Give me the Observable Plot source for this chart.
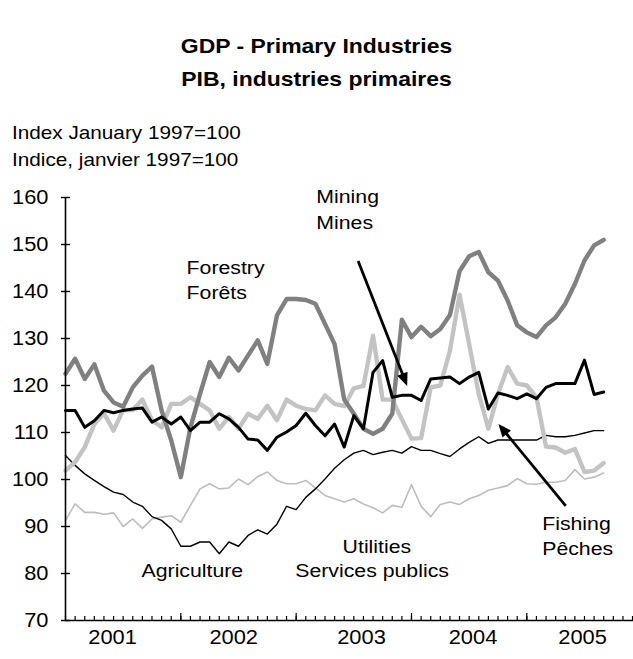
<!DOCTYPE html>
<html><head><meta charset="utf-8">
<script src="https://cdn.jsdelivr.net/npm/d3@7"></script>
<script src="https://cdn.jsdelivr.net/npm/@observablehq/plot@0.6"></script>
<style>
body{margin:0;background:#fff;font-family:"Liberation Sans",Arial,Helvetica,sans-serif;color:#000;}
#wrap{width:633px;height:659px;position:relative;overflow:hidden;background:#fff}
.title{font-weight:bold;font-size:20.5px;line-height:33px;padding-top:29px;text-align:center;transform:scaleX(1.12);transform-origin:316.5px 0;white-space:nowrap}
.ylab{font-size:18.5px;line-height:27px;margin-top:24px;padding-left:12px;transform:scaleX(1.12);transform-origin:12px 0;white-space:nowrap}
#chart svg{display:block}
</style></head><body><div id="wrap">
<div class="title"><div id="t1"></div><div id="t2"></div></div>
<div class="ylab"><div id="l1"></div><div id="l2"></div></div>
<div id="chart"></div></div>
<script>
// ---- text ----
const titleLines = ["GDP - Primary Industries", "PIB, industries primaires"];
const yLabelLines = ["Index January 1997=100", "Indice, janvier 1997=100"];

// ---- data: monthly index, Jan 2001 .. Sep 2005 (month index 0..56) ----
const agriculture = [105.1,103.0,101.2,99.8,98.5,97.3,96.8,95.2,94.3,92.1, 91.3,89.5,85.8,85.8,86.7,86.7,84.2,86.7,85.8,88.1, 89.3,88.4,90.5,94.3,93.6,96.2,98.0,100.1,102.4,104.2, 105.6,106.2,105.3,105.8,106.2,105.6,107.0,106.2,106.2,105.5, 104.9,106.5,107.9,109.1,107.7,108.4,108.4,108.4,108.4,108.4, 109.4,109.1,109.1,109.4,109.9,110.4,110.4];
const utilities = [91.3,94.8,93.0,93.0,92.6,92.9,90.0,91.6,89.6,91.6, 92.0,92.3,90.9,94.5,98.0,99.1,98.0,98.2,100.1,98.9, 100.6,101.6,99.8,99.1,99.1,99.8,98.2,96.6,95.9,95.2, 95.9,94.8,94.0,92.9,94.5,94.1,98.9,94.3,92.1,94.7, 95.2,94.7,95.9,96.6,97.7,98.2,98.7,100.2,99.1,99.0, 99.4,99.4,99.8,102.1,100.1,100.5,101.4];
const fishing = [101.9,103.7,106.9,111.8,114.1,110.4,114.8,114.8,117.0,112.6, 111.1,116.1,116.1,117.5,116.1,114.7,110.8,113.3,110.8,114.0, 112.9,115.7,112.6,117.0,115.7,115.0,114.7,117.9,116.1,115.6, 119.4,119.9,130.6,117.0,117.0,112.8,108.7,108.8,119.6,120.0, 127.4,139.3,128.8,118.2,110.8,118.2,123.9,120.4,120.0,117.5, 107.0,106.8,105.7,106.5,101.6,101.9,103.5];
const forestry = [122.5,125.7,121.4,124.5,118.9,116.4,115.5,119.6,122.1,124.0, 114.7,108.3,100.5,111.1,118.2,125.0,121.8,125.9,123.2,126.4, 129.6,124.6,134.9,138.4,138.4,138.2,137.4,133.1,128.8,117.0, 114.0,110.8,109.7,110.8,114.0,134.0,130.3,132.5,130.5,132.0, 135.0,144.3,147.5,148.4,144.1,142.3,138.1,132.8,131.3,130.3, 132.8,134.5,137.4,141.6,146.6,149.8,151.0];
const mining = [114.7,114.7,111.1,112.5,114.7,114.2,114.7,115.0,115.2,112.2, 113.3,111.8,113.3,110.4,112.2,112.2,114.0,112.9,111.1,108.6, 108.4,106.2,109.0,110.1,111.5,114.1,111.5,109.3,111.8,106.9, 113.6,110.8,122.8,125.3,117.5,117.9,117.9,116.8,121.4,121.6, 121.8,120.4,121.8,122.8,115.0,118.4,117.9,117.2,118.2,117.2, 119.6,120.4,120.4,120.4,125.4,118.1,118.6];

// ---- axes ----
const yTicks = [70, 80, 90, 100, 110, 120, 130, 140, 150, 160];
const years = ["2001", "2002", "2003", "2004", "2005"];
const yearLabelAt = [4.9, 17.5, 30.8, 42.4, 53.8];   // month index of each year label
const monthTicks = d3.range(0, 60);
const yearTicks = [12, 24, 36, 48];

// ---- annotations (month index, value at text baseline) ----
const leftLabels = [
  {text: "Forestry", i: 12.6, v: 143.8},
  {text: "Forêts", i: 12.6, v: 138.3},
  {text: "Mining", i: 26.1, v: 158.8},
  {text: "Mines", i: 26.1, v: 153.3},
  {text: "Fishing", i: 49.6, v: 89.3},
  {text: "Pêches", i: 49.6, v: 84.0}
];
const centeredLabels = [
  {text: "Agriculture", i: 13.2, v: 79.2},
  {text: "Utilities", i: 32.4, v: 84.3},
  {text: "Services publics", i: 31.9, v: 79.2}
];
const arrows = [
  {i1: 30.5, v1: 146.4, i2: 35.6, v2: 119.8},
  {i1: 52.1, v1: 94.3, i2: 45.1, v2: 111.7}
];

document.getElementById("t1").textContent = titleLines[0];
document.getElementById("t2").textContent = titleLines[1];
document.getElementById("l1").textContent = yLabelLines[0];
document.getElementById("l2").textContent = yLabelLines[1];

const toRows = (vals) => vals.map((v, i) => ({i, v}));
const series = [
  {vals: utilities, stroke: "#bdbdbd", w: 1.6},
  {vals: agriculture, stroke: "#000", w: 1.4},
  {vals: fishing, stroke: "#c3c3c3", w: 4.4},
  {vals: forestry, stroke: "#808080", w: 4.4},
  {vals: mining, stroke: "#000", w: 3}
];

function arrowRender(index, scales) {
  const g = d3.create("svg:g");
  for (const a of arrows) {
    const x1 = scales.x(a.i1), y1 = scales.y(a.v1), x2 = scales.x(a.i2), y2 = scales.y(a.v2);
    const ang = Math.atan2(y2 - y1, x2 - x1), L = 13, W = 5.5;
    const c = Math.cos(ang), s = Math.sin(ang);
    const bx = x2 - L * c, by = y2 - L * s;
    g.append("line").attr("x1", x1).attr("y1", y1).attr("x2", bx + 2 * c).attr("y2", by + 2 * s)
      .attr("stroke", "#000").attr("stroke-width", 2.8);
    g.append("path").attr("d", `M${x2},${y2}L${bx - W * s},${by + W * c}L${bx + W * s},${by - W * c}Z`).attr("fill", "#000");
  }
  return g.node();
}

const W = 633, H = 486, mL = 65, mR = 0, mT = 24, mB = 39;
const frameW = W - mL - mR, frameH = H - mT - mB;

const chart = Plot.plot({
  width: W, height: H,
  marginLeft: mL, marginRight: mR, marginTop: mT, marginBottom: mB,
  style: {fontFamily: "'Liberation Sans', Arial, sans-serif", fontSize: "19px", background: "#fff", color: "#000", overflow: "visible"},
  x: {domain: [0, 59.1], axis: null},
  y: {domain: [70, 160], axis: null},
  marks: [
    ...series.map(s => Plot.line(toRows(s.vals), {x: "i", y: "v", stroke: s.stroke, strokeWidth: s.w, strokeLinejoin: "round"})),
    Plot.ruleX([0], {stroke: "#000", strokeWidth: 1.6}),
    Plot.ruleY([70], {stroke: "#000", strokeWidth: 1.6}),
    Plot.tickY(yTicks, {y: d => d, stroke: "#000", strokeWidth: 1.4, insetLeft: -4, insetRight: frameW - 5}),
    Plot.tickX(monthTicks, {x: d => d, stroke: "#000", strokeWidth: 1.2, insetTop: frameH - 4}),
    Plot.tickX(yearTicks, {x: d => d, stroke: "#000", strokeWidth: 1.2, insetTop: frameH - 7}),
    Plot.text(yTicks, {x: 0, y: d => d, text: d => String(d), textAnchor: "end", dx: -17, fontSize: 19.5}),
    Plot.text(years, {x: (d, k) => yearLabelAt[k], y: 70, text: d => d, dy: 17, fontSize: 19.5}),
    Plot.text(leftLabels, {x: "i", y: "v", text: "text", textAnchor: "start", lineAnchor: "bottom", fontSize: 19}),
    Plot.text(centeredLabels, {x: "i", y: "v", text: "text", textAnchor: "middle", lineAnchor: "bottom", fontSize: 19}),
    arrowRender
  ]
});

// widen glyphs horizontally like the reference rendering
for (const t of chart.querySelectorAll("text")) {
  const x = parseFloat(t.getAttribute("x")) || 0;
  const tr = t.getAttribute("transform") || "";
  t.setAttribute("transform", `${tr} translate(${x},0) scale(1.12,1) translate(${-x},0)`);
}
document.getElementById("chart").appendChild(chart);
</script>
</body></html>
